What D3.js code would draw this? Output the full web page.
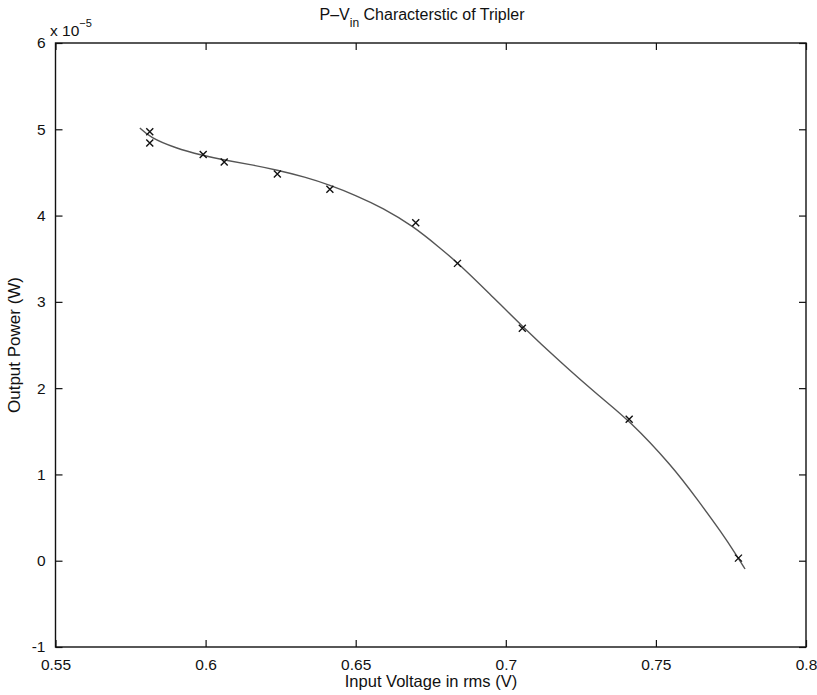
<!DOCTYPE html>
<html><head><meta charset="utf-8">
<script src="https://cdn.jsdelivr.net/npm/d3@7"></script>
<style>body{margin:0;background:#fff}svg{display:block}text,tspan{font-family:"Liberation Sans",Arial,Helvetica,sans-serif;fill:#111}</style>
</head><body>
<svg id="c" width="817" height="695"></svg>
<script>
// measured points (x: V rms, y: power in 1e-5 W)
const measVin = [0.5814,0.5814,0.5992,0.6062,0.6239,0.6414,0.6700,0.6839,0.7055,0.7411,0.7775];
const measP   = [4.971,4.840,4.709,4.620,4.481,4.304,3.917,3.446,2.693,1.639,0.030];
// fitted curve samples
const fitVin = [0.5781,0.5815,0.5898,0.5991,0.6061,0.6148,0.6238,0.6331,0.6414,0.6498,0.6591,0.6691,0.6781,0.6837,0.6947,0.7054,0.7181,0.7314,0.7410,0.7554,0.7637,0.7720,0.7770,0.7797];
const fitP   = [5.015,4.905,4.783,4.696,4.644,4.592,4.528,4.447,4.354,4.238,4.088,3.879,3.624,3.462,3.091,2.720,2.303,1.897,1.631,1.098,0.715,0.321,0.055,-0.096];
const xTicks = [0.55,0.6,0.65,0.7,0.75,0.8];
const xTickLabels = ["0.55","0.6","0.65","0.7","0.75","0.8"];
const yTicks = [-1,0,1,2,3,4,5,6];
const yTickLabels = ["-1","0","1","2","3","4","5","6"];

const svg = d3.select("#c");
const L=55.5,R=806,T=43,B=647;
const x = d3.scaleLinear().domain([0.55,0.8]).range([L,R]);
const y = d3.scaleLinear().domain([-1,6]).range([B,T]);

svg.append("rect").attr("x",L).attr("y",T).attr("width",R-L).attr("height",B-T)
  .attr("fill","none").attr("stroke","#111").attr("stroke-width",1.4);

const fmtX = d => xTickLabels[xTicks.indexOf(d)];
const fmtY = d => yTickLabels[yTicks.indexOf(d)];
function styleAxis(g){g.select(".domain").remove();g.selectAll("line").attr("stroke","#111").attr("stroke-width",1.2);
  g.selectAll("text").attr("font-size",15.5).attr("fill","#111");}
svg.append("g").attr("transform",`translate(0,${B})`)
  .call(d3.axisBottom(x).tickValues(xTicks).tickFormat(fmtX).tickSizeInner(-7).tickSizeOuter(0).tickPadding(12))
  .call(styleAxis);
svg.append("g").attr("transform",`translate(0,${T})`)
  .call(d3.axisTop(x).tickValues(xTicks).tickFormat("").tickSizeInner(-7).tickSizeOuter(0)).call(styleAxis);
svg.append("g").attr("transform",`translate(${L},0)`)
  .call(d3.axisLeft(y).tickValues(yTicks).tickFormat(fmtY).tickSizeInner(-7).tickSizeOuter(0).tickPadding(10))
  .call(styleAxis);
svg.append("g").attr("transform",`translate(${R},0)`)
  .call(d3.axisRight(y).tickValues(yTicks).tickFormat("").tickSizeInner(-7).tickSizeOuter(0)).call(styleAxis);

// exponent label
const ex = svg.append("text").attr("x",50).attr("y",36).attr("font-size",15.5).attr("fill","#111");
ex.append("tspan").attr("fill","#111").text("x 10");
ex.append("tspan").attr("fill","#111").attr("dy",-9).attr("font-size",11).text("\u22125");

// fitted curve
const fit = fitVin.map((v,i)=>[v,fitP[i]]);
svg.append("path").datum(fit)
  .attr("d",d3.line().x(d=>x(d[0])).y(d=>y(d[1])).curve(d3.curveBasis))
  .attr("fill","none").attr("stroke","#555").attr("stroke-width",1.4);

// crosses
const s=3.5;
const pts = measVin.map((v,i)=>[v,measP[i]]);
svg.append("g").selectAll("path").data(pts).join("path")
  .attr("d",d=>{const cx=x(d[0]),cy=y(d[1]);return `M${cx-s},${cy-s}L${cx+s},${cy+s}M${cx-s},${cy+s}L${cx+s},${cy-s}`;})
  .attr("stroke","#111").attr("stroke-width",1.4).attr("fill","none");

// title
const t = svg.append("text").attr("x",422).attr("y",20).attr("text-anchor","middle").attr("font-size",16).attr("fill","#111");
t.append("tspan").attr("fill","#111").text("P\u2013V");
t.append("tspan").attr("fill","#111").attr("dy",7).attr("font-size",12).text("in");
t.append("tspan").attr("fill","#111").attr("dy",-7).text(" Characterstic of Tripler");

svg.append("text").attr("x",431).attr("y",687).attr("text-anchor","middle").attr("font-size",16.5).attr("fill","#111")
  .text("Input Voltage in rms (V)");
svg.append("text").attr("transform",`translate(20,345) rotate(-90)`).attr("text-anchor","middle").attr("font-size",17).attr("fill","#111")
  .text("Output Power (W)");
</script>
</body></html>
